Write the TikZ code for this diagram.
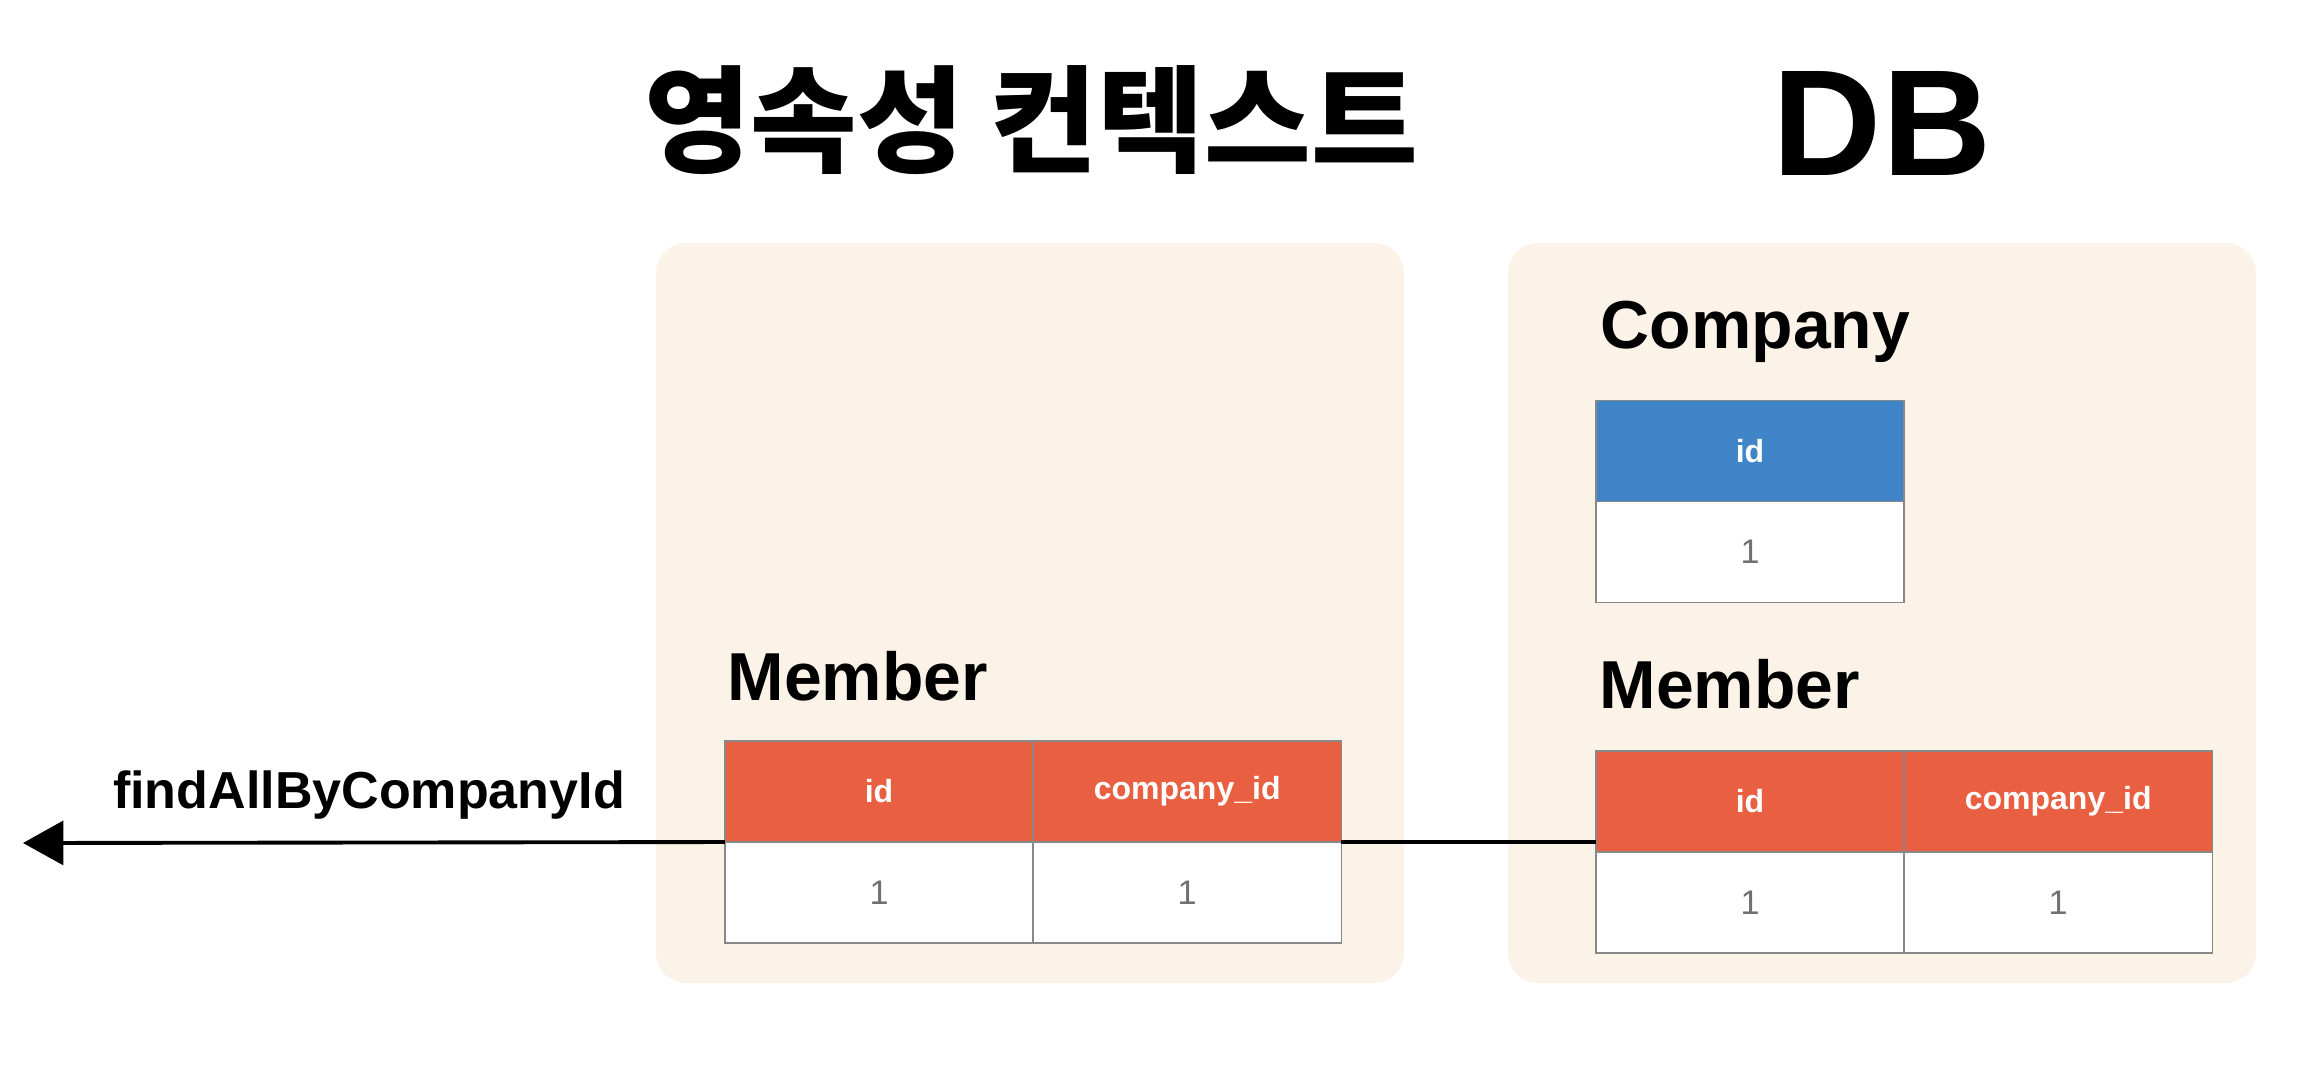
\documentclass[tikz,border=0pt]{standalone}
\usepackage{fontspec}
\setmainfont{Liberation Sans}
\newfontfamily\kor{Noto Sans CJK KR}
\usepackage{tikz}
\usetikzlibrary{arrows.meta,positioning}
\definecolor{boxbg}{HTML}{FCF3E8}
\definecolor{hdrred}{HTML}{E95F41}
\definecolor{hdrblue}{HTML}{3F85C8}
\definecolor{cellline}{HTML}{888888}
\definecolor{valgray}{HTML}{707070}

\begin{document}
\begin{tikzpicture}[x=0.01cm, y=-0.01cm,
    area/.style={fill=boxbg, rounded corners=8.5pt},
    cell/.style={draw=cellline, line width=0.4pt, fill=white, minimum width=3.08cm, minimum height=1.01cm, outer sep=0pt, inner sep=0pt, text=valgray, font=\fontsize{9.7}{11}\selectfont},
    hdr/.style={cell, fill=hdrred, text=white, font=\fontsize{9.1}{11}\selectfont\bfseries},
    hdrb/.style={hdr, fill=hdrblue},
    tname/.style={anchor=base west, inner sep=0pt, font=\fontsize{19.3}{22}\selectfont\bfseries}]
    \useasboundingbox (0,0) rectangle (2300,1088);

    % Titles
    \node[font=\kor\fontsize{33}{38}\selectfont\bfseries] (ttlpc) at (1031,120) {영속성 컨텍스트};
    \node[font=\fontsize{43}{48}\selectfont\bfseries] (ttldb) at (1882,123) {DB};

    % Areas
    \fill[area] (656,243) rectangle (1404,983);
    \fill[area] (1508,243) rectangle (2256,983);

    % Persistence context: Member
    \node[tname] (lblm1) at (727,700) {Member};
    \node[hdr] (m1id) at (879,791.5) {id};
    \node[hdr, right=0pt of m1id] (m1cid) {company\_id};
    \node[cell, below=0pt of m1id] (m1v1) {1};
    \node[cell, below=0pt of m1cid] (m1v2) {1};

    % DB: Company
    \node[tname] (lblc) at (1600,348) {Company};
    \node[hdrb] (cid) at (1750,451) {id};
    \node[cell, below=0pt of cid] (cv) {1};

    % DB: Member
    \node[tname] (lblm2) at (1599,708) {Member};
    \node[hdr] (m2id) at (1750,801.5) {id};
    \node[hdr, right=0pt of m2id] (m2cid) {company\_id};
    \node[cell, below=0pt of m2id] (m2v1) {1};
    \node[cell, below=0pt of m2cid] (m2v2) {1};

    % Query result
    \coordinate (qout) at (23,843);
    \draw[line width=1.1pt] (m2id.west |- m1v2.north east) -- (m1v2.north east);
    \draw[line width=1.1pt, -{Triangle[length=11.5pt, width=12.5pt]}] (m1v1.north west) -- (qout);
    \node[anchor=base, inner sep=0pt, font=\fontsize{14.8}{18}\selectfont\bfseries] (qlbl) at (369,808) {findAllByCompanyId};
\end{tikzpicture}
\end{document}
